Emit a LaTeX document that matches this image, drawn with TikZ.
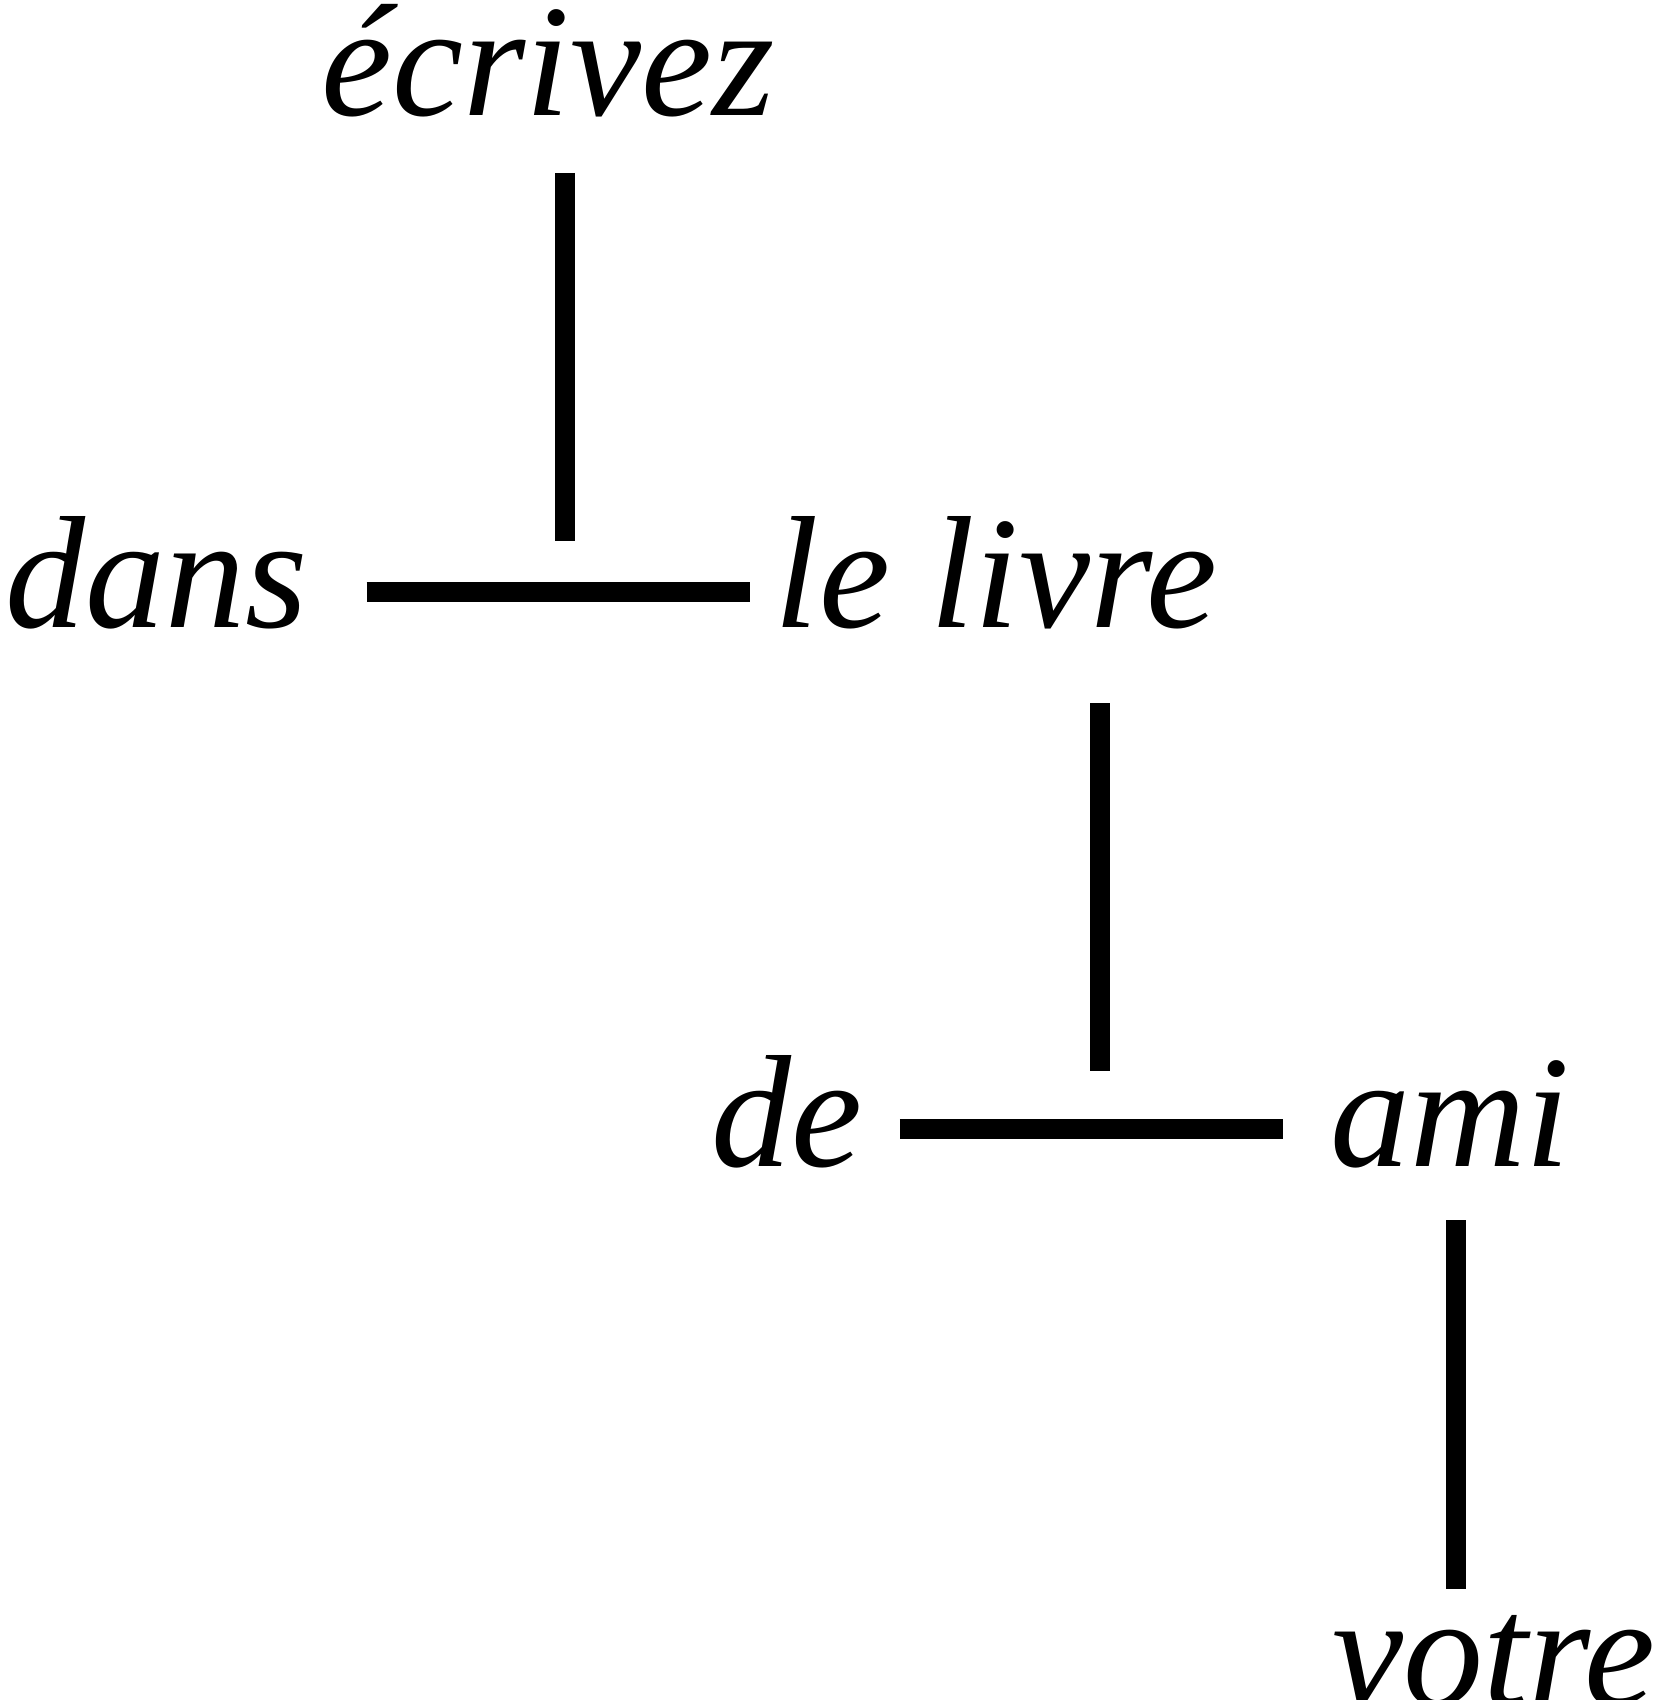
\documentclass[tikz,border=0pt]{standalone}
\usepackage{fontspec}
\setmainfont{Liberation Serif}
\usetikzlibrary{calc}
\tikzset{
    % Style for the words of the tree
    word/.style={
        font=\fontsize{80}{96}\selectfont\itshape,
        inner sep=0pt,
        anchor=base
    },
    % Style for the thick tree lines
    link/.style={
        line width=10pt,
        color=black
    }
}

\begin{document}
\begin{tikzpicture}[x=0.5pt,y=-0.5pt]

% Set the canvas size
\path[use as bounding box] (0,0) rectangle (1655,1700);

% Words
\node[word] (ecrivez) at (548,116) {écrivez};
\node[word] (dans) at (157,627) {dans};
\node[word] (livre) at (996,627) {le livre};
\node[word] (de) at (787,1166) {de};
\node[word] (ami) at (1450,1166) {ami};
\node[word] (votre) at (1494,1705) {votre};

% Junctions of the bars
\coordinate (j1) at (564.5,592.3);
\coordinate (j2) at (1100.3,1129.3);
\coordinate (j3) at (1455.5,1705);

% Heads down to their bars
\draw[link, shorten <=28.5pt, shorten >=25.5pt] (ecrivez.base -| j1) -- (j1);
\draw[link, shorten <=38pt, shorten >=29pt] (livre.base -| j2) -- (j2);
\draw[link, shorten <=27pt, shorten >=58pt] (ami.base -| j3) -- (j3);

% Bars between the dependents
\draw[link, shorten <=29pt, shorten >=12pt] (dans.east |- j1) -- (livre.west |- j1);
\draw[link, shorten <=18.5pt, shorten >=23.5pt] (de.east |- j2) -- (ami.west |- j2);

\end{tikzpicture}
\end{document}
